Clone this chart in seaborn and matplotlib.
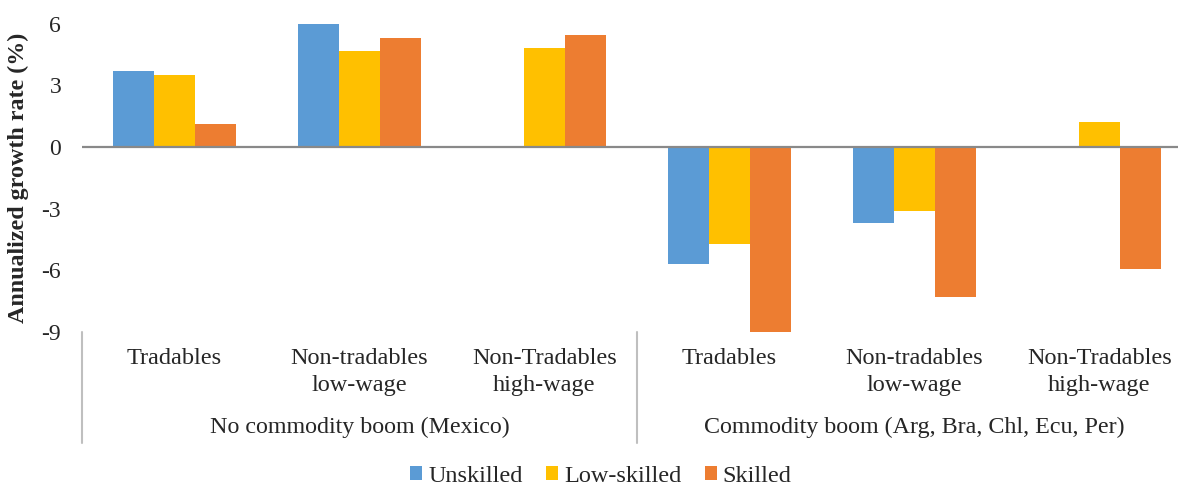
import numpy as np
import pandas as pd
import matplotlib.pyplot as plt
import matplotlib.transforms as mtransforms
import seaborn as sns

# ---- data ----
groups = ["No commodity boom (Mexico)", "Commodity boom (Arg, Bra, Chl, Ecu, Per)"]
sectors = ["Tradables", "Non-tradables\nlow-wage", "Non-Tradables\nhigh-wage"]
skills = ["Unskilled", "Low-skilled", "Skilled"]

unskilled = [3.72, 6.03, np.nan, -5.7, -3.68, np.nan]
low_skilled = [3.52, 4.66, 4.81, -4.72, -3.12, 1.2]
skilled = [1.1, 5.29, 5.45, -9.1, -7.3, -5.95]

colors = ["#5B9BD5", "#FFC000", "#ED7D31"]

# long-form table for seaborn
slots = [f"{g}|{s}" for g in groups for s in sectors]
df = pd.DataFrame({
    "slot": slots * 3,
    "skill": np.repeat(skills, len(slots)),
    "value": unskilled + low_skilled + skilled,
})

sns.set_style("white")
plt.rcParams["font.family"] = ["Liberation Serif", "DejaVu Serif"]

fig = plt.figure(figsize=(11.78, 4.87), dpi=100)
ax = fig.add_axes([82 / 1178, 1 - 332 / 487, 1110 / 1178, (332 - 23.7) / 487])

sns.barplot(data=df, x="slot", y="value", hue="skill", order=slots,
            hue_order=skills, palette=colors, width=0.665, gap=0,
            saturation=1, errorbar=None, linewidth=0, ax=ax, legend=True)

ax.set_xlim(-0.5, len(slots) - 0.5)
ax.set_ylim(-9, 6)
ax.set_yticks([6, 3, 0, -3, -6, -9])
ax.set_yticklabels(["6", "3", "0", "-3", "-6", "-9"], fontsize=17)
ax.tick_params(axis="y", length=0, pad=15)
ax.set_xticks([])
ax.set_xlabel("")
ax.set_ylabel("Annualized growth rate (%)", fontsize=17.3, fontweight="bold")
ax.yaxis.set_label_coords(-0.048, 0.5)
for sp in ax.spines.values():
    sp.set_visible(False)
ax.axhline(0, color="#898989", lw=1.6, zorder=3)

# multi-level category labels below the axes
trans = mtransforms.blended_transform_factory(ax.transData, fig.transFigure)
for i, slot in enumerate(slots):
    lines = slot.split("|")[1].split("\n")
    for k, line in enumerate(lines):
        fig.text(i, 1 - (358 + 28 * k) / 487, line, transform=trans,
                 ha="center", va="center", fontsize=17.5)
for gi, g in enumerate(groups):
    fig.text(gi * 3 + 1, 1 - 427 / 487, g, transform=trans,
             ha="center", va="center", fontsize=17.3)
for xpos in [-0.5, 2.5, 5.5]:
    fig.add_artist(plt.Line2D([xpos, xpos], [1 - 332 / 487, 1 - 443 / 487],
                              transform=trans, color="#BFBFBF", lw=1.5))

# legend at bottom
handles, labels = ax.get_legend_handles_labels()
ax.get_legend().remove()
fig.legend(handles, labels, loc="center", bbox_to_anchor=(601 / 1178, 1 - 476 / 487),
           ncol=3, frameon=False, fontsize=17.5, handlelength=0.5,
           handleheight=0.5, handletextpad=0.25, columnspacing=0.95)

fig.savefig("out.png", dpi=100)
